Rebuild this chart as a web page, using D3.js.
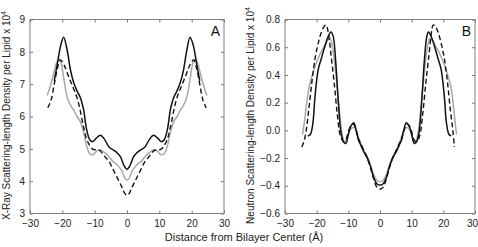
<!DOCTYPE html>
<html>
<head>
<meta charset="utf-8">
<script src="https://cdn.jsdelivr.net/npm/d3@7"></script>
<style>
  body { margin: 0; background: #fff; }
  svg { display: block; font-family: "Liberation Sans", Arial, Helvetica, sans-serif; }
</style>
</head>
<body>
<svg id="chart"></svg>
<script>
const width = 478, height = 247;

// Panel A (X-ray)
const aBlackX = [-22.5, -21.5, -20.5, -19.6, -18.5, -17.5, -16.5, -15.5, -14.5, -13.5, -12.5, -11.5, -10.6, -9.5, -8.2, -7, -5.5, -4, -3, -2, -1, 0,
                 1, 2, 3, 4, 5.5, 7, 8.2, 9.5, 10.6, 11.5, 12.5, 13.5, 14.5, 15.5, 16.5, 17.5, 18.5, 19.5, 20.5, 21.5, 22.5];
const aBlackY = [7.1, 7.65, 8.2, 8.45, 8.05, 7.45, 7.05, 6.8, 6.6, 6.25, 5.6, 5.28, 5.22, 5.33, 5.42, 5.3, 5.05, 4.95, 4.87, 4.75, 4.5, 4.37,
                 4.5, 4.75, 4.87, 4.95, 5.05, 5.3, 5.42, 5.33, 5.22, 5.28, 5.6, 6.25, 6.6, 6.8, 7.05, 7.45, 8.05, 8.45, 8.2, 7.65, 7.1];

const aGrayX = [-24.7, -24, -23, -22, -21.1, -20.5, -19.5, -18.5, -17.5, -16.5, -15.5, -14.5, -13.5, -12.5, -11.5, -10.5, -9.5, -8.5, -7.5, -6.5, -5.5, -4.5, -3.5, -2.5, -1.5, -0.7, 0,
                0.7, 1.5, 2.5, 3.5, 4.5, 5.5, 6.5, 7.5, 8.5, 9.5, 10.5, 11.5, 12.5, 13.5, 14.5, 15.5, 16.5, 17.5, 18.5, 19.5, 20.5, 21.1, 22, 23, 24, 24.7];
const aGrayY = [6.65, 6.85, 7.2, 7.6, 7.78, 7.7, 7.15, 6.6, 6.35, 6.2, 6.0, 5.85, 5.55, 5.1, 4.85, 4.82, 4.92, 4.97, 4.93, 4.85, 4.75, 4.62, 4.55, 4.45, 4.3, 4.1, 4.03,
                4.1, 4.3, 4.45, 4.55, 4.62, 4.75, 4.85, 4.93, 4.97, 4.92, 4.82, 4.85, 5.1, 5.55, 5.85, 6.0, 6.2, 6.35, 6.6, 7.15, 7.7, 7.78, 7.6, 7.2, 6.85, 6.65];

const aDashX = [-24.5, -23.5, -22.5, -21.5, -20.6, -19.5, -18.5, -17.5, -16.5, -15.5, -14.5, -13.5, -12.5, -11.5, -10.5, -9.5, -8.5, -7.5, -6.5, -5.5, -4.5, -3.5, -2.5, -1.5, -0.7, 0,
                0.7, 1.5, 2.5, 3.5, 4.5, 5.5, 6.5, 7.5, 8.5, 9.5, 10.5, 11.5, 12.5, 13.5, 14.5, 15.5, 16.5, 17.5, 18.5, 19.5, 20.6, 21.5, 22.5, 23.5, 24.5];
const aDashY = [6.27, 6.5, 7.0, 7.5, 7.75, 7.6, 7.35, 7.1, 6.85, 6.6, 6.2, 5.7, 5.3, 5.1, 4.98, 4.97, 4.95, 4.85, 4.72, 4.6, 4.4, 4.2, 4.0, 3.8, 3.62, 3.56,
                3.62, 3.8, 4.0, 4.2, 4.4, 4.6, 4.72, 4.85, 4.95, 4.97, 4.98, 5.1, 5.3, 5.7, 6.2, 6.6, 6.85, 7.1, 7.35, 7.6, 7.75, 7.5, 7.0, 6.5, 6.27];

// Panel B (neutron)
const bBlackX = [-22.8, -22, -21.2, -20.5, -19.5, -18.5, -17.5, -16.5, -15.5, -14.8, -14, -13.2, -12.3, -11.5, -10.8, -10, -9.2, -8.3, -7.5, -6.8, -6, -5, -4, -3, -2, -1, 0,
                 1, 2, 3, 4, 5, 6, 6.8, 7.5, 8.3, 9.2, 10, 10.8, 11.5, 12.3, 13.2, 14, 14.8, 15.3, 16.3, 17.3, 18.3, 19.3, 20.3, 21, 21.8, 22.5];
const bBlackY = [-0.04, -0.03, 0.05, 0.25, 0.44, 0.52, 0.6, 0.67, 0.71, 0.68, 0.5, 0.22, -0.02, -0.085, -0.095, -0.03, 0.03, 0.055, 0.0, -0.07, -0.11, -0.16, -0.2, -0.26, -0.34, -0.385, -0.395,
                 -0.385, -0.34, -0.26, -0.2, -0.16, -0.11, -0.07, 0.0, 0.055, 0.03, -0.03, -0.095, -0.085, -0.02, 0.22, 0.5, 0.68, 0.71, 0.67, 0.6, 0.52, 0.44, 0.25, 0.05, -0.03, -0.04];

const bGrayX = [-24.5, -24, -23.3, -22.5, -21.5, -20.5, -19.5, -18.5, -17.5, -16.5, -15.8, -15, -14, -13, -12, -11.2, -10.5, -9.5, -8.5, -7.5, -6.8, -6, -5, -4, -3, -2, -1, 0,
                1, 2, 3, 4, 5, 6, 6.8, 7.5, 8.5, 9.5, 10.5, 11.2, 12, 13, 14, 15, 15.8, 16.5, 17.5, 18.5, 19.5, 20.5, 21.5, 22.5, 23.2, 23.8, 24.2];
const bGrayY = [-0.03, 0.04, 0.17, 0.3, 0.39, 0.46, 0.52, 0.57, 0.61, 0.65, 0.665, 0.6, 0.42, 0.18, -0.02, -0.09, -0.06, 0.0, 0.02, 0.0, -0.05, -0.1, -0.15, -0.19, -0.25, -0.32, -0.36, -0.37,
                -0.36, -0.32, -0.25, -0.19, -0.15, -0.1, -0.05, 0.0, 0.02, 0.0, -0.06, -0.09, -0.02, 0.18, 0.42, 0.6, 0.665, 0.65, 0.61, 0.57, 0.52, 0.46, 0.39, 0.3, 0.17, 0.04, -0.03];

const bDashX = [-24.7, -24, -23.3, -22.5, -21.5, -20.5, -19.5, -18.5, -17.5, -17, -16.3, -15.5, -14.5, -13.5, -12.5, -11.5, -10.8, -10, -9.2, -8.4, -7.6, -6.8, -6, -5, -4, -3, -2, -1, 0,
                1, 2, 3, 4, 5, 6, 6.8, 7.6, 8.4, 9.2, 10, 10.8, 11.5, 12.5, 13.5, 14.5, 15.5, 16.2, 16.8, 17.4, 18.3, 19.3, 20.3, 21.3, 22.2, 23, 23.5];
const bDashY = [-0.12, -0.08, 0.0, 0.15, 0.35, 0.52, 0.63, 0.71, 0.755, 0.76, 0.7, 0.55, 0.35, 0.12, -0.04, -0.08, -0.07, -0.01, 0.035, 0.045, 0.0, -0.06, -0.1, -0.15, -0.2, -0.27, -0.35, -0.41, -0.425,
                -0.41, -0.35, -0.27, -0.2, -0.15, -0.1, -0.06, 0.0, 0.045, 0.035, -0.01, -0.07, -0.08, -0.04, 0.12, 0.35, 0.55, 0.7, 0.76, 0.755, 0.71, 0.63, 0.52, 0.35, 0.15, 0.0, -0.12];

const xTicks = [-30, -20, -10, 0, 10, 20, 30];
const aYTicks = [3, 4, 5, 6, 7, 8, 9];
const bYTicks = [-0.6, -0.4, -0.2, 0.0, 0.2, 0.4, 0.6, 0.8];

const svg = d3.select("#chart")
    .attr("width", width)
    .attr("height", height);

// draw one panel
function drawPanel(opt) {
    const x = d3.scaleLinear().domain([-30, 30]).range([opt.left, opt.right]);
    const y = d3.scaleLinear().domain(opt.yDomain).range([opt.bottom, opt.top]);

    const g = svg.append("g");

    const line = d3.line()
        .x(d => x(d[0]))
        .y(d => y(d[1]))
        .curve(d3.curveCatmullRom.alpha(0.5));

    const zip = (xs, ys) => xs.map((v, i) => [v, ys[i]]);

    // gray first, then dashed, then solid black on top
    g.append("path").datum(zip(opt.gray[0], opt.gray[1]))
        .attr("d", line).attr("fill", "none")
        .attr("stroke", "#a8a8a8").attr("stroke-width", 1.5);
    g.append("path").datum(zip(opt.dash[0], opt.dash[1]))
        .attr("d", line).attr("fill", "none")
        .attr("stroke", "#111").attr("stroke-width", 1.4)
        .attr("stroke-dasharray", "5,3");
    g.append("path").datum(zip(opt.black[0], opt.black[1]))
        .attr("d", line).attr("fill", "none")
        .attr("stroke", "#111").attr("stroke-width", 1.5);

    // axes with inward ticks on all sides
    const bottom = g.append("g").attr("transform", `translate(0,${opt.bottom})`)
        .call(d3.axisBottom(x).tickValues(xTicks).tickSizeInner(-3).tickSizeOuter(0).tickPadding(6));
    const top = g.append("g").attr("transform", `translate(0,${opt.top})`)
        .call(d3.axisTop(x).tickValues(xTicks).tickSizeInner(-3).tickSizeOuter(0).tickFormat(""));
    const left = g.append("g").attr("transform", `translate(${opt.left},0)`)
        .call(d3.axisLeft(y).tickValues(opt.yTicks).tickSizeInner(-3).tickSizeOuter(0).tickPadding(5).tickFormat(opt.fmt));
    const right = g.append("g").attr("transform", `translate(${opt.right},0)`)
        .call(d3.axisRight(y).tickValues(opt.yTicks).tickSizeInner(-3).tickSizeOuter(0).tickFormat(""));

    [bottom, top, left, right].forEach(a => {
        a.select(".domain").remove();
        a.selectAll(".tick line").attr("stroke", "#777");
        a.selectAll("text").attr("font-size", 10).attr("fill", "#222")
            .attr("font-family", "'Liberation Sans', Arial, sans-serif");
    });

    // keep the last x label inside the window
    if (opt.clampLast) {
        bottom.selectAll(".tick text").filter(d => d === 30).attr("dx", -3);
    }

    g.append("rect")
        .attr("x", opt.left).attr("y", opt.top)
        .attr("width", opt.right - opt.left).attr("height", opt.bottom - opt.top)
        .attr("fill", "none").attr("stroke", "#808080").attr("stroke-width", 1);

    // panel letter
    g.append("text")
        .attr("x", opt.right - 4).attr("y", opt.top + 16)
        .attr("text-anchor", "end").attr("font-size", 14).attr("fill", "#111")
        .text(opt.letter);

    // y label
    const yl = g.append("text")
        .attr("transform", `translate(${opt.yLabelX},${(opt.top + opt.bottom) / 2 - 1}) rotate(-90)`)
        .attr("text-anchor", "middle").attr("font-size", 10).attr("fill", "#222");
    yl.append("tspan").text(opt.yLabel + " x 10");
    yl.append("tspan").attr("dy", -4).attr("font-size", 7).text("4");
}

drawPanel({
    left: 30, right: 224, top: 19.5, bottom: 213.5,
    yDomain: [3, 9], yTicks: aYTicks, fmt: d3.format("d"),
    gray: [aGrayX, aGrayY], dash: [aDashX, aDashY], black: [aBlackX, aBlackY],
    letter: "A", yLabelX: 10, clampLast: false,
    yLabel: "X-Ray Scattering-length Density per Lipid"
});

drawPanel({
    left: 285, right: 475, top: 19.5, bottom: 213.5,
    yDomain: [-0.6, 0.8], yTicks: bYTicks, fmt: d3.format(".1f"),
    gray: [bGrayX, bGrayY], dash: [bDashX, bDashY], black: [bBlackX, bBlackY],
    letter: "B", yLabelX: 254, clampLast: true,
    yLabel: "Neutron Scattering-length Density per Lipid"
});

svg.append("text")
    .attr("x", 244).attr("y", 241)
    .attr("text-anchor", "middle").attr("font-size", 11).attr("fill", "#222")
    .text("Distance from Bilayer Center (Å)");
</script>
</body>
</html>
